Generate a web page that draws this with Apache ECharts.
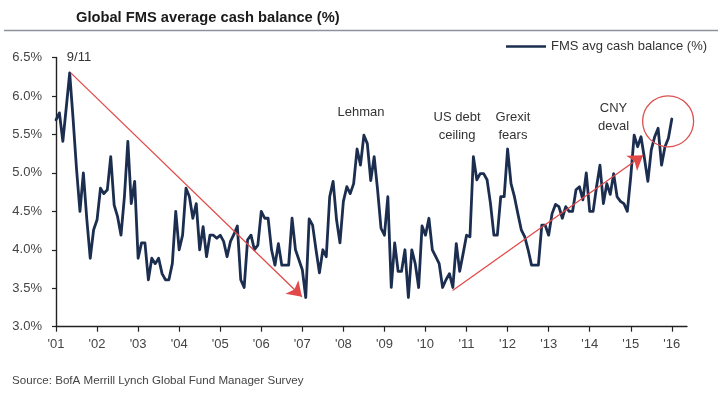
<!DOCTYPE html>
<html>
<head>
<meta charset="utf-8">
<script src="https://cdn.jsdelivr.net/npm/echarts@6/dist/echarts.min.js"></script>
<style>
html,body{margin:0;padding:0;background:#fff;}
#chart{width:718px;height:393px;}
</style>
</head>
<body>
<div id="chart"></div>
<script>
// ---- data ----
const titleText = 'Global FMS average cash balance (%)';
const sourceText = 'Source: BofA Merrill Lynch Global Fund Manager Survey';
const seriesName = 'FMS avg cash balance (%)';
const startYear = 2001;            // first monthly observation
const cashBalance = [
  5.69,5.78,5.41,5.85,6.30,5.70,5.05,4.50,5.00,4.40,3.89,4.26,
  4.39,4.80,4.73,4.78,5.21,4.58,4.43,4.19,4.69,5.41,4.60,4.89,
  3.89,4.09,4.09,3.61,3.89,3.82,3.89,3.69,3.61,3.61,3.82,4.50,
  4.00,4.19,4.80,4.69,4.41,4.60,4.00,4.30,3.91,4.19,4.19,4.15,
  4.19,4.11,3.91,4.11,4.20,4.31,3.61,3.51,4.13,4.19,4.00,4.06,
  4.50,4.41,4.41,4.00,3.80,4.08,3.80,3.80,3.80,4.41,4.00,3.87,
  3.74,3.38,4.40,4.32,4.00,3.70,4.00,3.91,4.69,4.89,4.39,4.09,
  4.63,4.82,4.73,4.86,5.31,5.10,5.49,5.38,4.90,5.21,4.78,4.28,
  4.19,4.69,3.51,4.09,3.72,3.72,4.00,3.38,4.00,3.82,3.51,4.31,
  4.19,4.41,4.00,3.91,3.82,3.51,3.61,3.69,3.51,4.08,3.72,3.95,
  4.19,4.17,5.21,4.91,4.99,4.99,4.91,4.60,4.19,4.19,4.69,4.69,
  5.31,4.86,4.69,4.47,4.26,4.17,4.00,3.80,3.80,3.80,4.32,4.32,
  4.19,4.47,4.59,4.56,4.41,4.56,4.50,4.50,4.78,4.82,4.65,5.00,
  4.50,4.50,4.82,5.10,4.60,4.86,4.72,4.99,4.69,4.63,4.60,4.50,
  4.95,5.49,5.34,5.47,5.19,4.89,5.30,5.47,5.58,5.10,5.34,5.45,
  5.70
];
const yearTicks = [2001,2002,2003,2004,2005,2006,2007,2008,2009,2010,2011,2012,2013,2014,2015,2016];
// annotations (in data coordinates: decimal year, %)
const eventLabels = [
  {text:'9/11', x:2001.56, y:6.50},
  {text:'Lehman', x:2008.43, y:5.78},
  {text:'US debt\nceiling', x:2010.77, y:5.60},
  {text:'Grexit\nfears', x:2012.13, y:5.60},
  {text:'CNY\ndeval', x:2014.58, y:5.72}
];
const trendArrows = [
  {from:[2001.36, 6.30], to:[2006.99, 3.39]},
  {from:[2010.66, 3.47], to:[2015.30, 5.23]}
];
const highlightCircle = {x:2015.91, y:5.67};

// ---- chart ----
const points = cashBalance.map((v,i)=>[startYear + i/12, v]);
const font = 'Liberation Sans, Arial, sans-serif';
const chart = echarts.init(document.getElementById('chart'), null, {renderer:'canvas'});

const markPoints = eventLabels.map(e=>({
  coord:[e.x, e.y], name:e.text, symbol:'circle', symbolSize:1,
  itemStyle:{color:'rgba(0,0,0,0)'},
  label:{show:true, position:'inside', formatter:e.text, color:'#333', fontSize:13, lineHeight:18, fontFamily:font}
}));
markPoints.push({
  coord:[highlightCircle.x, highlightCircle.y], symbol:'circle', symbolSize:51,
  itemStyle:{color:'rgba(0,0,0,0)', borderColor:'#dc5050', borderWidth:1.3},
  label:{show:false}
});

chart.setOption({
  animation:false,
  backgroundColor:'#fff',
  textStyle:{fontFamily:font},
  title:[
    {text:titleText, left:76, top:10, padding:0,
     textStyle:{fontSize:14.7, fontWeight:'bold', color:'#1a1a1a', fontFamily:font}},
    {text:sourceText, left:12, top:375, padding:0,
     textStyle:{fontSize:11.6, fontWeight:'normal', color:'#444', fontFamily:font}}
  ],
  graphic:[
    {type:'line', shape:{x1:4, y1:30.5, x2:718, y2:30.5}, style:{stroke:'#8a939b', lineWidth:1.5}}
  ],
  legend:{
    left:506, top:40, padding:0, icon:'rect', itemWidth:40, itemHeight:2.6, itemGap:4,
    textStyle:{fontSize:13, color:'#333', fontFamily:font},
    data:[seriesName]
  },
  grid:{left:56, right:31, top:57.5, bottom:66.3, containLabel:false},
  xAxis:{
    type:'value', min:2001, max:2016.37,
    axisLine:{show:true, lineStyle:{color:'#222', width:1.4}},
    axisTick:{show:true, customValues:yearTicks, length:5, lineStyle:{color:'#222', width:1.2}},
    axisLabel:{customValues:yearTicks, margin:11, fontSize:13, color:'#444', fontFamily:font,
      formatter:v=>"'"+String(Math.round(v)).slice(2)},
    splitLine:{show:false}
  },
  yAxis:{
    type:'value', min:3, max:6.5, interval:0.5,
    axisLine:{show:true, lineStyle:{color:'#222', width:1.4}},
    axisTick:{show:true, length:4, lineStyle:{color:'#222', width:1.2}},
    axisLabel:{margin:14, fontSize:13, color:'#444', fontFamily:font,
      formatter:v=>v.toFixed(1)+'%'},
    splitLine:{show:false}
  },
  series:[{
    name:seriesName, type:'line', data:points, symbol:'none', clip:false,
    lineStyle:{color:'#1c2e50', width:2.8, cap:'round', join:'round'},
    itemStyle:{color:'#1c2e50'},
    emphasis:{disabled:true},
    markLine:{
      silent:true, symbol:['none','arrow'], symbolSize:14, symbolOffset:[0,0],
      itemStyle:{color:'#e8262b'},
      lineStyle:{color:'#e24a4a', width:1.3, type:'solid'},
      label:{show:false}, emphasis:{disabled:true},
      data: trendArrows.map(a=>[
        {coord:a.from, symbol:'none'},
        {coord:a.to, symbol:'arrow', symbolSize:14, itemStyle:{color:'#e8262b'}}
      ])
    },
    markPoint:{silent:true, data:markPoints}
  }]
});
</script>
</body>
</html>
